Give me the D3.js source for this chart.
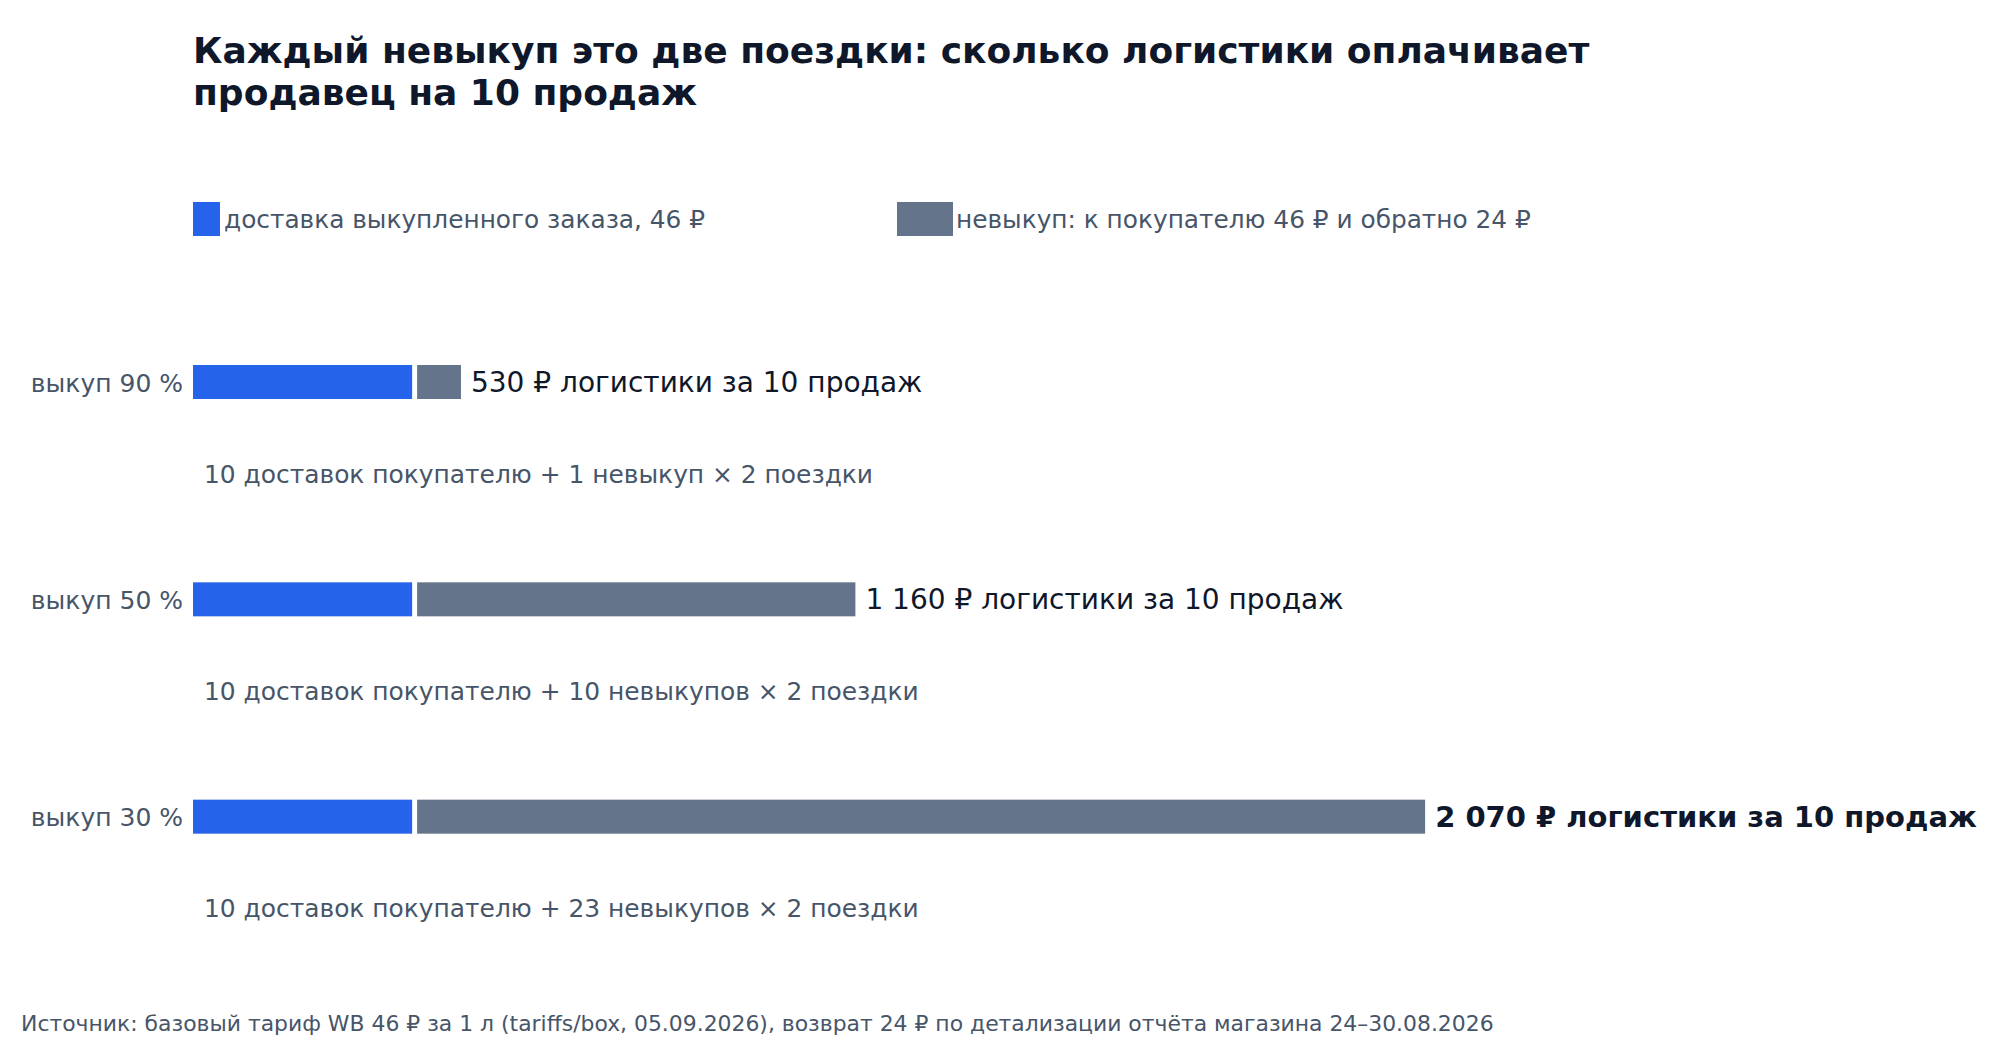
<!DOCTYPE html>
<html><head><meta charset="utf-8">
<script src="https://cdn.jsdelivr.net/npm/d3@7"></script>
<style>
html,body{margin:0;padding:0;background:#fff;}
text{font-family:"DejaVu Sans",sans-serif;}
</style></head>
<body><svg id="c" width="2000" height="1040"></svg>
<script>
// ---- data ----
const titleLines = ["Каждый невыкуп это две поездки: сколько логистики оплачивает", "продавец на 10 продаж"];
const legendLabels = ["доставка выкупленного заказа, 46 ₽", "невыкуп: к покупателю 46 ₽ и обратно 24 ₽"];
const categories = ["выкуп 90 %", "выкуп 50 %", "выкуп 30 %"];
const deliveryTrips = [10, 10, 10];          // trips to buyer for 10 sales
const returnTrips = [2, 20, 46];             // non-buyouts × 2 trips
const totals = ["530 ₽ логистики за 10 продаж", "1 160 ₽ логистики за 10 продаж", "2 070 ₽ логистики за 10 продаж"];
const notes = ["10 доставок покупателю + 1 невыкуп × 2 поездки",
               "10 доставок покупателю + 10 невыкупов × 2 поездки",
               "10 доставок покупателю + 23 невыкупов × 2 поездки"];
const source = "Источник: базовый тариф WB 46 ₽ за 1 л (tariffs/box, 05.09.2026), возврат 24 ₽ по детализации отчёта магазина 24–30.08.2026";

const BLUE = "#2563eb", GRAY = "#64748b", DARK = "#0f172a", MUTED = "#475569";
const svg = d3.select("#c");
const left = 193, gap = 5;

// title
svg.append("text").attr("x", left).attr("y", 63).attr("fill", DARK)
  .attr("font-size", 36).attr("font-weight", "bold")
  .selectAll("tspan").data(titleLines).join("tspan")
  .attr("x", left).attr("dy", (d, i) => i ? 42 : 0).text(d => d);

// legend
const lg = svg.append("g");
lg.append("rect").attr("x", 193).attr("y", 202).attr("width", 27).attr("height", 34).attr("fill", BLUE);
lg.append("text").attr("x", 224).attr("y", 219).attr("dy", "0.35em").attr("font-size", 24.8).attr("fill", MUTED).text(legendLabels[0]);
lg.append("rect").attr("x", 897).attr("y", 202).attr("width", 56).attr("height", 34).attr("fill", GRAY);
lg.append("text").attr("x", 956).attr("y", 219).attr("dy", "0.35em").attr("font-size", 24.8).attr("fill", MUTED).text(legendLabels[1]);

// scales
const x = d3.scaleLinear().domain([0, 46]).range([0, 1008]);
const y = d3.scaleBand().domain(categories).range([330, 982]).paddingInner(0).paddingOuter(0);
const barH = 34;
const rows = categories.map((c, i) => ({c, d: deliveryTrips[i], r: returnTrips[i], t: totals[i], n: notes[i], i}));

const g = svg.append("g");
const row = g.selectAll("g.row").data(rows).join("g").attr("class", "row")
  .attr("transform", d => `translate(0,${y(d.c) + 35})`);

row.append("rect").attr("x", left).attr("y", 0).attr("height", barH)
  .attr("width", d => x(d.d)).attr("fill", BLUE);
row.append("rect").attr("x", d => left + x(d.d) + gap).attr("y", 0).attr("height", barH)
  .attr("width", d => x(d.r)).attr("fill", GRAY);
row.append("text").attr("x", 183).attr("y", barH / 2 + 1).attr("dy", "0.35em")
  .attr("text-anchor", "end").attr("font-size", 25).attr("fill", MUTED).text(d => d.c);
row.append("text").attr("x", d => left + x(d.d) + gap + x(d.r) + 10).attr("y", barH / 2).attr("dy", "0.35em")
  .attr("font-size", d => d.i === 2 ? 29 : 28).attr("fill", DARK).attr("font-weight", d => d.i === 2 ? "bold" : "normal").text(d => d.t);
row.append("text").attr("x", 204).attr("y", barH / 2 + 92).attr("dy", "0.35em")
  .attr("font-size", 24.9).attr("fill", MUTED).text(d => d.n);

// source
svg.append("text").attr("x", 21).attr("y", 1023).attr("dy", "0.35em").attr("font-size", 21.9).attr("fill", MUTED).text(source);
</script></body></html>
